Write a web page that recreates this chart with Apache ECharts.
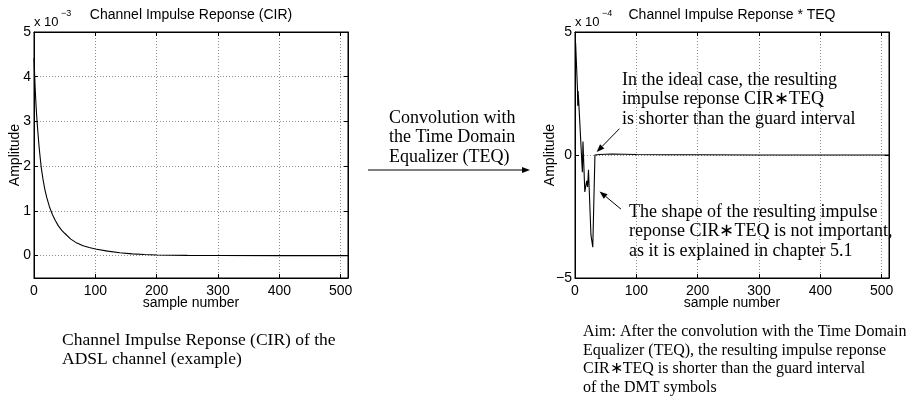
<!DOCTYPE html>
<html><head><meta charset="utf-8">
<script src="https://cdn.jsdelivr.net/npm/echarts@6/dist/echarts.min.js"></script>
<style>html,body{margin:0;padding:0;background:#fff}#c{width:906px;height:399px}</style>
</head><body><div id="c"></div>
<script>
// Channel impulse response (CIR), amplitude in units of 1e-3
const cirSamples = [0,1,2,3,4,5,6,8,10,12,15,18,21,25,30,35,40,45,50,60,70,80,90,100,120,140,160,180,200,250,300,400,512];
const cirAmp     = [4.42,4.05,3.72,3.45,3.2,3.0,2.82,2.48,2.2,1.95,1.68,1.46,1.29,1.1,0.92,0.78,0.66,0.57,0.5,0.37,0.28,0.22,0.18,0.15,0.1,0.065,0.04,0.025,0.015,0.005,0.002,0,0];

// CIR convolved with the TEQ, amplitude in units of 1e-4
const teqSamples = [1,4,4.5,5,6,12,13,16,19,20.5,22,26,29,32.5,40,60,80,100,150,200,300,400,512];
const teqAmp     = [4.55,2.7,2.0,2.6,2.2,-0.7,0.55,-1.5,-1.05,-1.3,-0.6,-3.25,-3.75,0,0.02,0.04,0.03,0.02,0.01,0.01,0,0,0];

// Axis ranges and tick steps
const sampleRange = [0, 512], sampleStep = 100;
const cirRange = [-0.5, 5], cirStep = 1;
const teqRange = [-5, 5], teqStep = 5;

// Annotation arrows in the right panel: [tailX, tailY, headX, headY] in data units
const idealArrow = [72.5, 1.07, 35.3, 0.12];
const shapeArrow = [75, -2.2, 40, -1.48];

const SANS = 'Liberation Sans, Arial, Helvetica, sans-serif';
const SERIF = 'Liberation Serif, Times New Roman, serif';

const chart = echarts.init(document.getElementById('c'), null, {renderer: 'canvas'});

const grid = (left) => ({left: left, top: 32, width: 314, height: 246, show: true,
  borderColor: '#000', borderWidth: 1, backgroundColor: '#fff'});

// Fresh style objects for every axis
const dotted = () => ({show: true, lineStyle: {color: '#8c8c8c', type: [1, 2], width: 1}});
const noSplit = () => ({show: false});
const tickIn = () => ({show: true, inside: true, length: 4, lineStyle: {color: '#000'}});
const axisLine = () => ({show: true, onZero: false, lineStyle: {color: '#000'}});
const onStep = (step) => (v) => {
  const k = v / step;
  if (Math.abs(k - Math.round(k)) > 1e-9) return '';
  return v < 0 ? '\u2212' + (-v) : String(v);
};
const lbl = (step, margin) => ({show: true, color: '#000', fontSize: 14, fontFamily: SANS, margin: margin, formatter: onStep(step)});
const nameStyle = () => ({color: '#000', fontSize: 14, fontFamily: SANS});

function xAxes(g) {
  const base = () => ({type: 'value', gridIndex: g, min: sampleRange[0], max: sampleRange[1], interval: sampleStep});
  return [
    Object.assign(base(), {position: 'bottom', axisLine: axisLine(), axisTick: tickIn(), axisLabel: lbl(sampleStep, 6),
      splitLine: dotted(), name: 'sample number', nameLocation: 'middle', nameGap: 18,
      nameMoveOverlap: false, nameTextStyle: nameStyle()}),
    Object.assign(base(), {position: 'top', axisLine: axisLine(), axisTick: tickIn(),
      axisLabel: {show: false}, splitLine: noSplit()})
  ];
}
function yAxes(g, range, step, gap, useInterval) {
  const base = () => {
    const b = {type: 'value', gridIndex: g, min: range[0], max: range[1]};
    if (useInterval) b.interval = step; else b.splitNumber = 5;
    return b;
  };
  return [
    Object.assign(base(), {position: 'left', axisLine: axisLine(), axisTick: tickIn(), axisLabel: lbl(step, 3),
      splitLine: dotted(), name: 'Amplitude', nameLocation: 'middle', nameGap: gap, nameRotate: 90,
      nameMoveOverlap: false, nameTextStyle: nameStyle()}),
    Object.assign(base(), {position: 'right', axisLine: axisLine(), axisTick: tickIn(),
      axisLabel: {show: false}, splitLine: noSplit()})
  ];
}

const titleStyle = {fontSize: 14, fontWeight: 'normal', fontFamily: SANS, color: '#000'};

function serifLines(lines, x, y0, step, size) {
  return lines.map((t, i) => ({
    type: 'text', left: x, top: y0 + i * step, silent: true,
    style: {text: t, font: size + 'px ' + SERIF, fill: '#000'}
  }));
}
function exponent(x, y, power) {
  return [
    {type: 'text', left: x, top: y, silent: true, style: {text: 'x 10', font: '13px ' + SANS, fill: '#000'}},
    {type: 'text', left: x + 27, top: y - 7, silent: true, style: {text: '\u2212' + power, font: '9px ' + SANS, fill: '#000'}}
  ];
}
function arrow(x1, y1, x2, y2) {
  const a = Math.atan2(y2 - y1, x2 - x1), L = 8, W = 3;
  const bx = x2 - L * Math.cos(a), by = y2 - L * Math.sin(a);
  const px = -Math.sin(a) * W, py = Math.cos(a) * W;
  return [
    {type: 'line', silent: true, shape: {x1: x1, y1: y1, x2: bx, y2: by}, style: {stroke: '#000', lineWidth: 1}},
    {type: 'polygon', silent: true, shape: {points: [[x2, y2], [bx + px, by + py], [bx - px, by - py]]}, style: {fill: '#000'}}
  ];
}

chart.setOption({
  animation: false,
  backgroundColor: '#fff',
  title: [
    {text: 'Channel Impulse Reponse (CIR)', left: 191, top: 8, textAlign: 'center', textStyle: titleStyle, padding: 0},
    {text: 'Channel Impulse Reponse * TEQ', left: 732, top: 8, textAlign: 'center', textStyle: titleStyle, padding: 0}
  ],
  grid: [grid(34), grid(575)],
  xAxis: xAxes(0).concat(xAxes(1)),
  yAxis: yAxes(0, cirRange, cirStep, 12, false).concat(yAxes(1, teqRange, teqStep, 18, true)),
  series: [
    {type: 'line', xAxisIndex: 0, yAxisIndex: 0, showSymbol: false, silent: true,
     lineStyle: {color: '#000', width: 1.1},
     data: cirSamples.map((s, i) => [s, cirAmp[i]])},
    {type: 'line', xAxisIndex: 2, yAxisIndex: 2, showSymbol: false, silent: true,
     lineStyle: {color: '#000', width: 1.1},
     data: teqSamples.map((s, i) => [s, teqAmp[i]])}
  ]
});

const toPx = (p) => chart.convertToPixel({gridIndex: 1}, p);
function dataArrow(a) {
  const t = toPx([a[0], a[1]]), h = toPx([a[2], a[3]]);
  return arrow(t[0], t[1], h[0], h[1]);
}

const graphics = [].concat(
  exponent(34, 16, 3),
  exponent(575, 16, 4),
  serifLines(['In the ideal case, the resulting', 'impulse reponse CIR\u2217TEQ', 'is shorter than the guard interval'], 622, 71, 19.5, 18),
  serifLines(['The shape of the resulting impulse', 'reponse CIR\u2217TEQ is not important,', 'as it is explained in chapter 5.1'], 629, 203, 19.5, 18),
  dataArrow(idealArrow),
  dataArrow(shapeArrow),
  serifLines(['Convolution with', 'the Time Domain', 'Equalizer (TEQ)'], 389, 109, 19.5, 18),
  arrow(368, 170, 530, 170),
  serifLines(['Channel Impulse Reponse (CIR) of the', 'ADSL channel (example)'], 62, 331, 19.5, 17.5),
  serifLines(['Aim: After the convolution with the Time Domain', 'Equalizer (TEQ), the resulting impulse reponse', 'CIR\u2217TEQ is shorter than the guard interval', 'of the DMT symbols'], 583, 324, 18.5, 16)
);
chart.setOption({graphic: graphics});
</script>
</body></html>
